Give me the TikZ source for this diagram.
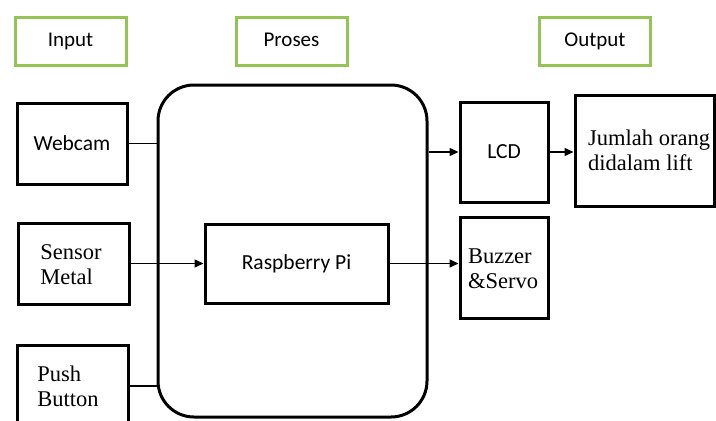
\documentclass[tikz,border=0pt]{standalone}
\usepackage{fontspec}
\setmainfont{Liberation Serif}
\newfontfamily\calib{Carlito}
\usetikzlibrary{arrows.meta}
\definecolor{hdrgreen}{RGB}{150,195,85}
\tikzset{
  box/.style={draw=black, line width=3pt, inner sep=0pt},
  hdr/.style={draw=hdrgreen, line width=3pt, minimum width=111pt, minimum height=48pt, text height=14pt, text depth=4pt, font=\calib\fontsize{21}{24}\selectfont},
  sanstxt/.style={font=\calib\fontsize{21.5}{25}\selectfont},
  seriftxt/.style={font=\fontsize{22.5}{25}\selectfont, align=left, inner sep=0pt},
  conn/.style={line width=1.5pt},
  arr/.style={conn, -{Triangle[length=9pt,width=8pt]}}
}
\begin{document}
\begin{tikzpicture}[x=1pt,y=-1pt]
\useasboundingbox (0,0) rectangle (716,421);
\clip (0,0) rectangle (716,421);
% headers
\node[hdr] (hin) at (70.5,41) {Input};
\node[hdr] (hpro) at (291.5,41) {Proses};
\node[hdr] (hout) at (595,41) {Output};
% input boxes
\node[box, sanstxt, minimum width=110pt, minimum height=81pt] (webcam) at (72,143.5) {Webcam};
\node[box, minimum width=111pt, minimum height=81pt] (sensor) at (73.5,263.5) {};
\node[seriftxt] (sensortxt) at (71,265) {Sensor\\Metal};
\node[box, minimum width=111pt, minimum height=100pt] (push) at (72.5,395) {};
\node[seriftxt] (pushtxt) at (68,386) {Push\\Button};
% process
\node[draw=black, line width=3pt, rounded corners=36pt, minimum width=269pt, minimum height=332pt] (proc) at (292.5,251) {};
\node[box, sanstxt, minimum width=183pt, minimum height=79pt] (rpi) at (296.5,263.5) {Raspberry Pi};
% outputs
\node[box, sanstxt, minimum width=88pt, minimum height=100pt] (lcd) at (504,152) {LCD};
\node[box, minimum width=88pt, minimum height=101pt] (buzzer) at (504,267.5) {};
\node[seriftxt] (buzzertxt) at (503,269) {Buzzer\\\&Servo};
\node[box, minimum width=139pt, minimum height=111pt] (jumlah) at (644.5,150.5) {};
\node[seriftxt, anchor=west] (jumlahtxt) at (588,150) {Jumlah orang\\didalam lift};
% connectors
\draw[conn] (webcam.east) -- (webcam.east -| proc.west);
\draw[arr] (sensor.east) -- (rpi.west);
\coordinate (pushout) at ([yshift=9pt]push.east);
\draw[conn] (pushout) -- (pushout -| proc.west);
\draw[arr] (proc.east |- lcd.west) -- (lcd.west);
\draw[arr] (lcd.east) -- (lcd.east -| jumlah.west);
\draw[arr] (rpi.east) -- (rpi.east -| buzzer.west);
\end{tikzpicture}
\end{document}
